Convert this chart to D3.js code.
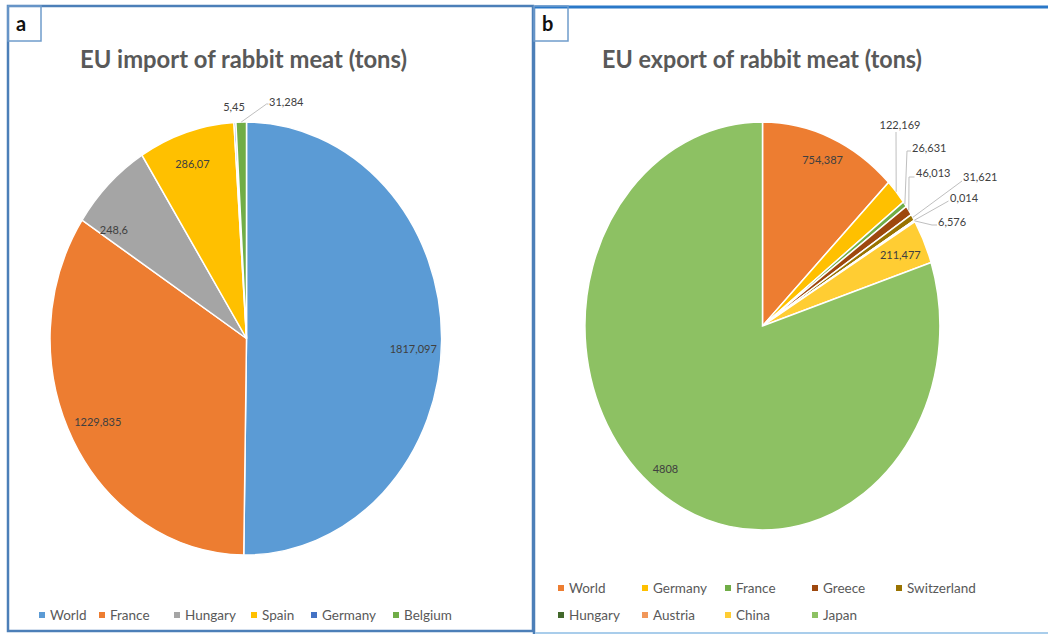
<!DOCTYPE html>
<html>
<head>
<meta charset="utf-8">
<script src="https://cdn.jsdelivr.net/npm/d3@7"></script>
<style>
  body { margin: 0; background: #fff; }
  svg { display: block; }
  text { font-family: Lato, "Open Sans", sans-serif; }
</style>
</head>
<body>
<svg id="chart" width="1048" height="635"></svg>
<script>
// ---- Panel a: EU import of rabbit meat (tons) ----
const importCountries = ["World", "France", "Hungary", "Spain", "Germany", "Belgium"];
const importTons = [1817.097, 1229.835, 248.6, 286.07, 5.45, 31.284];
const importColors = ["#5B9BD5", "#ED7D31", "#A5A5A5", "#FFC000", "#4472C4", "#70AD47"];

// ---- Panel b: EU export of rabbit meat (tons) ----
const exportCountries = ["World", "Germany", "France", "Greece", "Switzerland", "Hungary", "Austria", "China", "Japan"];
const exportTons = [754.387, 122.169, 26.631, 46.013, 31.621, 0.014, 6.576, 211.477, 4808];
const exportColors = ["#ED7D31", "#FFC000", "#70AD47", "#9E480E", "#997300", "#43682B", "#F1975A", "#FFCD33", "#8DC163"];

// Values are written with a decimal comma
const fmt = v => String(v).replace(".", ",");

// Label placement: inside labels sit on the slice's mid angle (k = fraction of radius, da = angle tweak in degrees);
// outside labels give an offset from the pie centre and an optional leader path.
const importLabelLayout = [
  { k: 0.85, da: 3 },
  { k: 0.85, da: 1 },
  { k: 0.84, da: -9 },
  { k: 0.85, da: -1 },
  { x: -12.5, y: -231.5, anchor: "middle" },
  { x: 22.5, y: -236.5, anchor: "start", leader: [[20, -234.5], [22, -234.5]] }
];
const exportLabelLayout = [
  { k: 0.88, da: 0 },
  { x: 137.5, y: -201, anchor: "middle", leader: [[133.5, -194]] },
  { x: 149.5, y: -178, anchor: "start", leader: [[144.5, -175], [148.5, -175]] },
  { x: 153.5, y: -153, anchor: "start", leader: [[146.5, -149], [152, -149]] },
  { x: 200.5, y: -149, anchor: "start", leader: [[199.5, -145]] },
  { x: 187.5, y: -128, anchor: "start", leader: [[186, -125]] },
  { x: 175.5, y: -104, anchor: "start", leader: [[169.5, -101], [174.5, -101]] },
  { k: 0.85, da: 0.5 },
  { k: 0.89, da: 2 }
];

// Legend slots
const importLegendSlots = [[39, 615], [99, 615], [174, 615], [251, 615], [311, 615], [393, 615]];
const exportLegendSlots = [[558, 588], [642, 588], [725, 588], [812, 588], [896, 588],
                           [558, 615], [642, 615], [725, 615], [812, 615]];

const svg = d3.select("#chart");

// ---- frames ----
svg.append("rect").attr("x", 8).attr("y", 6).attr("width", 525).attr("height", 625)
  .attr("fill", "none").attr("stroke", "#4C7FB8").attr("stroke-width", 2.5);
svg.append("line").attr("x1", 534).attr("x2", 534).attr("y1", 6).attr("y2", 634)
  .attr("stroke", "#4C7FB8").attr("stroke-width", 2.5);
svg.append("line").attr("x1", 535).attr("x2", 1048).attr("y1", 7).attr("y2", 7)
  .attr("stroke", "#2A78C8").attr("stroke-width", 3);
svg.append("line").attr("x1", 535).attr("x2", 1048).attr("y1", 633).attr("y2", 633)
  .attr("stroke", "#A9CDEB").attr("stroke-width", 2);

// panel letters
function letterBox(x0, x1, letter, tx) {
  svg.append("rect").attr("x", x0).attr("y", 6).attr("width", x1 - x0).attr("height", 35)
    .attr("fill", "none").attr("stroke", "#6F9CCB").attr("stroke-width", 1.5);
  svg.append("text").attr("x", tx).attr("y", 31).attr("font-size", 20).attr("font-weight", 700)
    .attr("fill", "#111").text(letter);
}
letterBox(8, 41, "a", 16);
letterBox(534, 568, "b", 542);

// ---- one pie panel ----
function drawPie(opts) {
  const { names, values, colors, cx, cy, rx, ry, title, titleX, titleLen, labelLayout, legendSlots } = opts;

  svg.append("text").attr("x", titleX).attr("y", 68)
    .attr("font-size", 24).attr("font-weight", 700).attr("fill", "#595959")
    .attr("textLength", titleLen).attr("lengthAdjust", "spacingAndGlyphs")
    .text(title);

  const pie = d3.pie().sort(null).value(d => d).startAngle(0).endAngle(2 * Math.PI);
  const arcs = pie(values);
  const arc = d3.arc().innerRadius(0).outerRadius(1);

  const g = svg.append("g").attr("transform", `translate(${cx},${cy}) scale(${rx},${ry})`);
  g.selectAll("path").data(arcs).join("path")
    .attr("d", arc)
    .attr("fill", (d, i) => colors[i])
    .attr("stroke", "#fff").attr("stroke-width", 1.5)
    .attr("vector-effect", "non-scaling-stroke");

  const pt = (ang, k) => [cx + rx * k * Math.sin(ang), cy - ry * k * Math.cos(ang)];
  const lg = svg.append("g");

  arcs.forEach((a, i) => {
    const L = labelLayout[i];
    const mid = (a.startAngle + a.endAngle) / 2;
    let x, y, anchor;
    if (L.k !== undefined) {
      [x, y] = pt(mid + (L.da || 0) * Math.PI / 180, L.k);
      anchor = "middle";
    } else {
      x = cx + L.x; y = cy + L.y; anchor = L.anchor;
      if (L.leader) {
        const pts = [pt(mid, 1)].concat(L.leader.map(p => [cx + p[0], cy + p[1]]));
        lg.append("path").attr("d", d3.line()(pts))
          .attr("fill", "none").attr("stroke", "#BFBFBF").attr("stroke-width", 1);
      }
    }
    lg.append("text").attr("x", x).attr("y", y).attr("dy", "0.35em")
      .attr("text-anchor", anchor).attr("font-size", 11).attr("fill", "#404040")
      .text(fmt(values[i]));
  });

  const leg = svg.append("g");
  names.forEach((n, i) => {
    const [lx, ly] = legendSlots[i];
    leg.append("rect").attr("x", lx).attr("y", ly - 3).attr("width", 6).attr("height", 6)
      .attr("fill", colors[i]);
    leg.append("text").attr("x", lx + 11).attr("y", ly).attr("dy", "0.35em")
      .attr("font-size", 13.5).attr("fill", "#595959").text(n);
  });
}

drawPie({
  names: importCountries, values: importTons, colors: importColors,
  cx: 246.5, cy: 338.5, rx: 196.5, ry: 216.5,
  title: "EU import of rabbit meat (tons)", titleX: 80, titleLen: 327,
  labelLayout: importLabelLayout, legendSlots: importLegendSlots
});

drawPie({
  names: exportCountries, values: exportTons, colors: exportColors,
  cx: 762.5, cy: 326, rx: 177.5, ry: 204,
  title: "EU export of rabbit meat (tons)", titleX: 602, titleLen: 320,
  labelLayout: exportLabelLayout, legendSlots: exportLegendSlots
});
</script>
</body>
</html>
